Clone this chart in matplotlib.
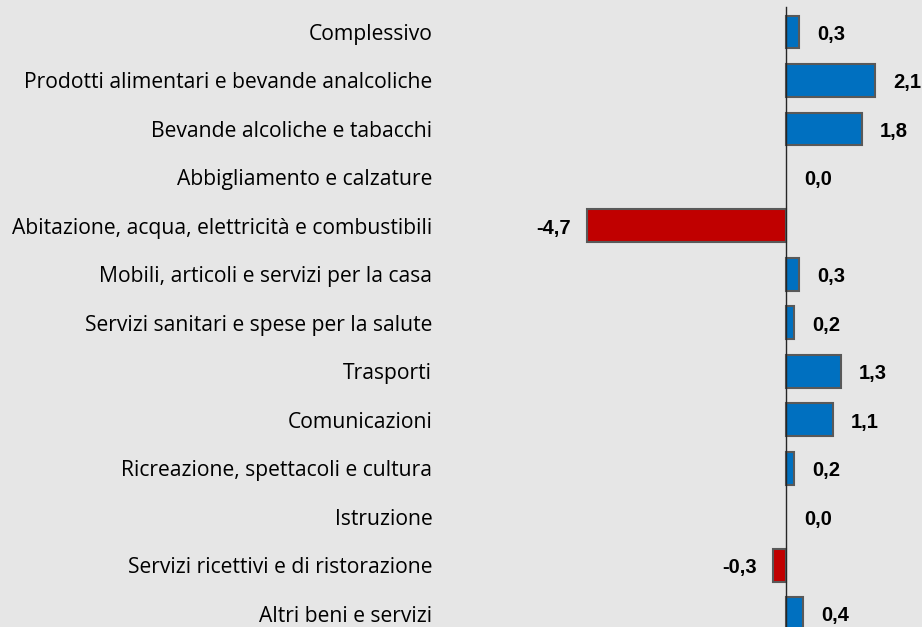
import numpy as np
import matplotlib
matplotlib.use("Agg")
import matplotlib.pyplot as plt

categories = [
    "Complessivo",
    "Prodotti alimentari e bevande analcoliche",
    "Bevande alcoliche e tabacchi",
    "Abbigliamento e calzature",
    "Abitazione, acqua, elettricità e combustibili",
    "Mobili, articoli e servizi per la casa",
    "Servizi sanitari e spese per la salute",
    "Trasporti",
    "Comunicazioni",
    "Ricreazione, spettacoli e cultura",
    "Istruzione",
    "Servizi ricettivi e di ristorazione",
    "Altri beni e servizi",
]
values = [0.3, 2.1, 1.8, 0.0, -4.7, 0.3, 0.2, 1.3, 1.1, 0.2, 0.0, -0.3, 0.4]

BLUE = "#0070c0"
RED = "#c00000"
BG = "#e6e6e6"


def main():
    fig = plt.figure(figsize=(9.22, 6.27), dpi=100, facecolor=BG)
    W, H = 922, 627
    ax = fig.add_axes([440 / W, 0, (W - 440) / W, 1])
    ax.set_facecolor(BG)

    y = np.arange(len(categories))
    colors = [RED if v < 0 else BLUE for v in values]
    widths = [0 if v == 0 else 1.5 for v in values]
    ax.barh(y, values, height=0.68, color=colors, edgecolor="#595959", linewidth=widths, zorder=2)

    ax.set_xlim(-8.18, 3.215)
    ax.set_ylim(12.27, -0.66)

    ax.axvline(0, ymin=0, ymax=1 - 7 / H, color="#262626", linewidth=1, zorder=3)

    for yi, v in zip(y, values):
        label = f"{v:.1f}".replace(".", ",")
        if v < 0:
            ax.annotate(label, (v, yi), xytext=(-12, -1.5), textcoords="offset points",
                        ha="right", va="center", fontsize=14.5, fontweight="bold",
                        family="Liberation Sans", color="#000000")
        else:
            ax.annotate(label, (v, yi), xytext=(13, -1.5), textcoords="offset points",
                        ha="left", va="center", fontsize=14.5, fontweight="bold",
                        family="Liberation Sans", color="#000000")

    ax.set_yticks(y)
    ax.set_yticklabels(categories, family="Open Sans", fontsize=15.2, color="#000000")
    ax.tick_params(axis="y", length=0, pad=5.5)
    ax.set_xticks([])
    for s in ax.spines.values():
        s.set_visible(False)

    fig.savefig("out.png", dpi=100, facecolor=BG)


if __name__ == "__main__":
    main()
